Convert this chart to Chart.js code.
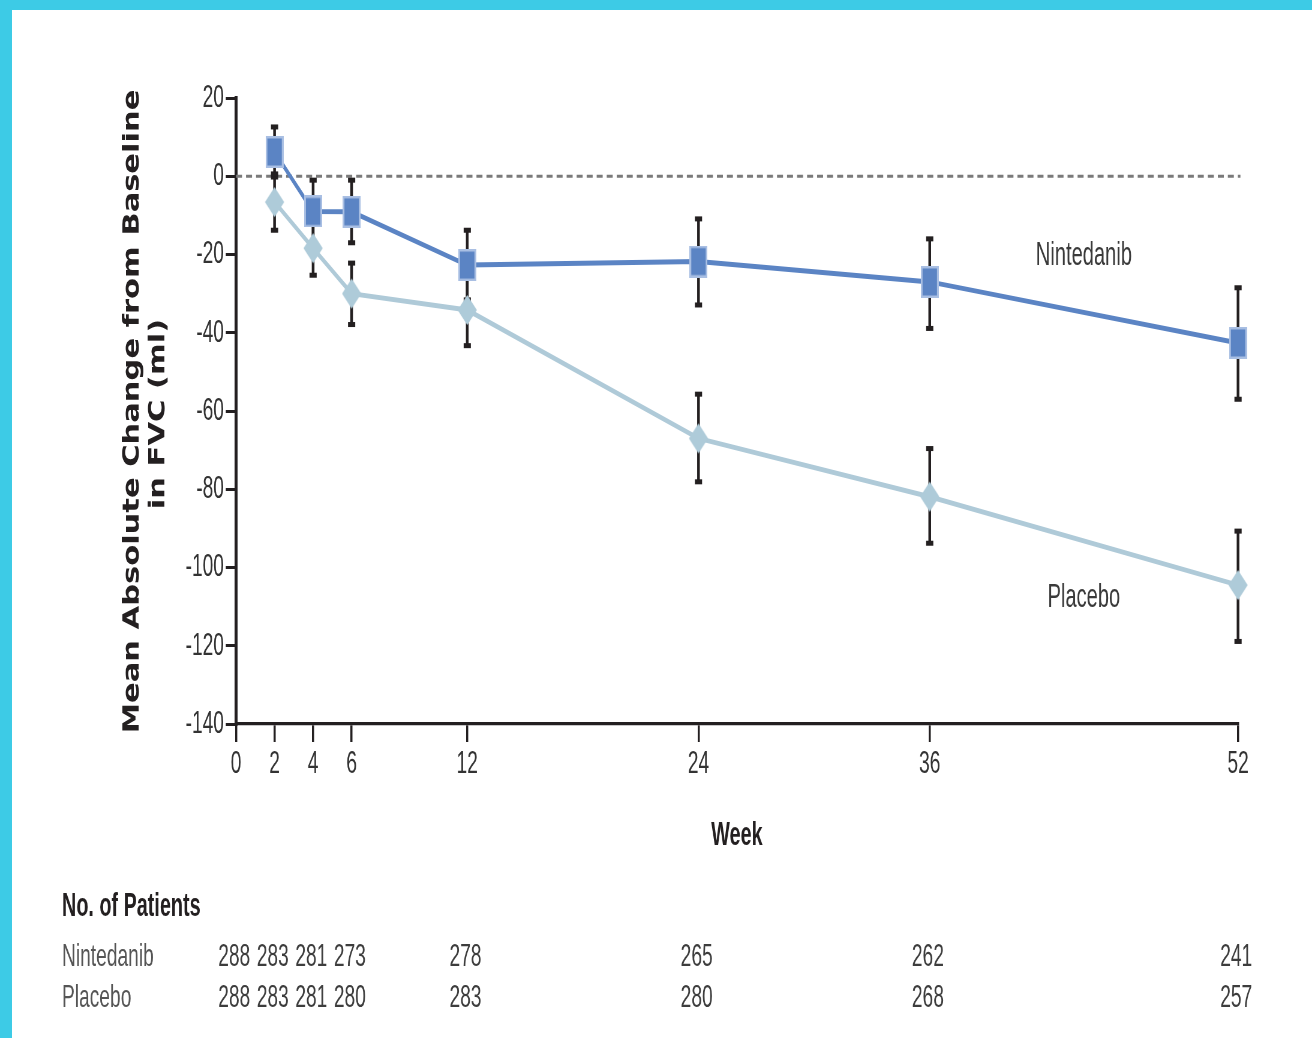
<!DOCTYPE html>
<html><head><meta charset="utf-8">
<script src="https://cdn.jsdelivr.net/npm/chart.js@4.4.1/dist/chart.umd.min.js"></script>
<style>
html,body{margin:0;padding:0;background:#3dcbe6;width:1312px;height:1038px;overflow:hidden}
#wrap{position:absolute;left:12px;top:10px;width:1300px;height:1028px;background:#fff}
canvas{display:block}
</style></head><body>
<div id="wrap"><canvas id="c" width="2167" height="1028" style="width:1300px;height:1028px"></canvas></div>
<script>
// ---- data ----
const weeks = [2, 4, 6, 12, 24, 36, 52];
const nintedanibMean  = [6.2, -9.0, -9.1, -22.7, -21.8, -27.0, -42.6];
const nintedanibUpper = [12.6, -1.0, -1.0, -13.8, -10.9, -16.0, -28.5];
const nintedanibLower = [-0.2, -17.0, -17.0, -31.6, -32.9, -38.9, -57.0];
const placeboMean  = [-6.6, -18.4, -30.0, -34.2, -67.0, -81.9, -104.5];
const placeboUpper = [0.6, -11.0, -22.2, -25.5, -55.7, -69.6, -90.7];
const placeboLower = [-13.8, -25.3, -37.9, -43.3, -78.1, -93.8, -118.9];
const xTicks = [0, 2, 4, 6, 12, 24, 36, 52];
const patientWeeks = [0, 2, 4, 6, 12, 24, 36, 52];
const nintedanibN = [288, 283, 281, 273, 278, 265, 262, 241];
const placeboN    = [288, 283, 281, 280, 283, 280, 268, 257];
const yTitle = ['Mean Absolute Change from Baseline', 'in FVC (ml)'];

// ---- styling helpers ----
const FONT = "'Liberation Sans', Arial, sans-serif";
const INK = '#231f20';

function makeSquare() {
  const c = document.createElement('canvas');
  c.width = 30; c.height = 32;
  const g = c.getContext('2d');
  g.fillStyle = '#a9bfe3'; g.fillRect(0, 0, 30, 32);
  g.fillStyle = '#5b84c4'; g.fillRect(3, 2.5, 24, 27);
  return c;
}
function makeDiamond() {
  const c = document.createElement('canvas');
  c.width = 34; c.height = 32;
  const g = c.getContext('2d');
  g.fillStyle = '#aecbd9';
  g.beginPath(); g.moveTo(17, 1); g.lineTo(33, 16); g.lineTo(17, 31); g.lineTo(1, 16); g.closePath(); g.fill();
  return c;
}

const errorBars = {
  id: 'errorBars',
  beforeDatasetsDraw(chart) {
    const ctx = chart.ctx, xs = chart.scales.x, ys = chart.scales.y, ca = chart.chartArea;
    ctx.save();
    // zero reference line
    ctx.strokeStyle = '#7a7a7a'; ctx.lineWidth = 3; ctx.setLineDash([10, 6.7]);
    const y0 = ys.getPixelForValue(0);
    ctx.beginPath(); ctx.moveTo(ca.left, y0); ctx.lineTo(ca.right + 4, y0); ctx.stroke();
    ctx.setLineDash([]);
    const sets = [[nintedanibUpper, nintedanibLower], [placeboUpper, placeboLower]];
    ctx.strokeStyle = INK; ctx.fillStyle = INK; ctx.lineWidth = 4.5;
    sets.forEach(([up, lo]) => {
      weeks.forEach((w, i) => {
        const x = xs.getPixelForValue(w);
        const a = ys.getPixelForValue(up[i]), b = ys.getPixelForValue(lo[i]);
        ctx.beginPath(); ctx.moveTo(x, a); ctx.lineTo(x, b); ctx.stroke();
        ctx.fillRect(x - 6, a - 2.5, 12, 5);
        ctx.fillRect(x - 6, b - 2.5, 12, 5);
      });
    });
    ctx.restore();
  }
};

const texts = {
  id: 'texts',
  afterDraw(chart) {
    const ctx = chart.ctx, xs = chart.scales.x;
    const t = (s, x, y, font, color, align) => {
      ctx.font = font; ctx.fillStyle = color; ctx.textAlign = align; ctx.textBaseline = 'alphabetic';
      ctx.fillText(s, x, y);
    };
    ctx.save();
    // y-axis title (rotated)
    ctx.font = "bold 30.5px 'DejaVu Sans', Verdana, sans-serif";
    ctx.fillStyle = INK; ctx.textAlign = 'center'; ctx.textBaseline = 'alphabetic';
    [[yTitle[0], 210.8, 401.5], [yTitle[1], 254.2, 404]].forEach(([s, x, y]) => {
      ctx.save(); ctx.translate(x, y); ctx.rotate(-Math.PI / 2); ctx.scale(1, 1.2);
      ctx.fillText(s, 0, 0); ctx.restore();
    });
    // series labels
    t('Nintedanib', 1786.7, 255, `33.5px ${FONT}`, '#3a3a3a', 'center');
    t('Placebo', 1786.7, 597, `33.5px ${FONT}`, '#3a3a3a', 'center');
    // x-axis title
    t('Week', 1208.3, 835, `bold 33px ${FONT}`, INK, 'center');
    // patient table
    t('No. of Patients', 83.3, 906, `bold 33px ${FONT}`, INK, 'left');
    t('Nintedanib', 83.3, 956, `32px ${FONT}`, '#555', 'left');
    t('Placebo', 83.3, 997, `32px ${FONT}`, '#555', 'left');
    patientWeeks.forEach((w, i) => {
      const x = xs.getPixelForValue(w) - 3;
      t(String(nintedanibN[i]), x, 956, `32px ${FONT}`, '#3d3d3d', 'center');
      t(String(placeboN[i]), x, 997, `32px ${FONT}`, '#3d3d3d', 'center');
    });
    ctx.restore();
  }
};

const pts = (m) => weeks.map((w, i) => ({ x: w, y: m[i] }));

new Chart(document.getElementById('c'), {
  type: 'line',
  data: {
    datasets: [
      { label: 'Nintedanib', data: pts(nintedanibMean), borderColor: '#5b84c4', borderWidth: 5,
        pointStyle: makeSquare(), pointRadius: 15, clip: false, tension: 0, fill: false },
      { label: 'Placebo', data: pts(placeboMean), borderColor: '#afcad8', borderWidth: 5,
        pointStyle: makeDiamond(), pointRadius: 15, clip: false, tension: 0, fill: false }
    ]
  },
  options: {
    responsive: false, animation: false, devicePixelRatio: 1, events: [],
    layout: { padding: { left: 0, top: 88, right: 123.3, bottom: 0 } },
    plugins: { legend: { display: false }, tooltip: { enabled: false } },
    scales: {
      x: {
        type: 'linear', min: 0, max: 52,
        afterBuildTicks: s => { s.ticks = xTicks.map(v => ({ value: v })); },
        afterFit: s => { s.height = 314; },
        border: { display: true, color: INK, width: 3.3 },
        grid: { drawOnChartArea: false, drawTicks: true, tickLength: 18, color: INK, lineWidth: 3.5 },
        ticks: { autoSkip: false, maxRotation: 0, padding: 3, color: '#333', font: { family: FONT, size: 32 } }
      },
      y: {
        min: -140, max: 20,
        afterFit: s => { s.width = 373.4; },
        border: { display: true, color: INK, width: 5 },
        grid: { drawOnChartArea: false, drawTicks: true, tickLength: 17, color: INK, lineWidth: 3 },
        ticks: { stepSize: 20, padding: 3, color: '#333', font: { family: FONT, size: 32 } }
      }
    }
  },
  plugins: [errorBars, texts]
});
</script>
</body></html>
